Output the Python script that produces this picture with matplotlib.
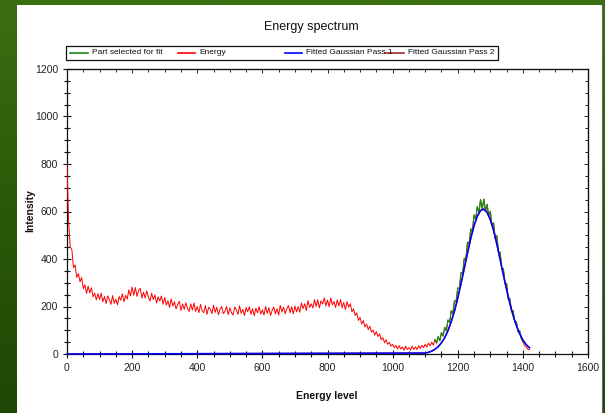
import matplotlib
matplotlib.use('Agg')
import matplotlib.pyplot as plt
import numpy as np
from matplotlib.patches import Rectangle
from matplotlib.colors import LinearSegmentedColormap
from matplotlib.ticker import MultipleLocator
from matplotlib.lines import Line2D

plt.rcParams['font.family'] = ['Liberation Sans', 'DejaVu Sans']

# ---------------- data ----------------
channels = list(range(0, 1425, 5))
energy_counts = (
    [800, 555, 450, 438, 363, 375, 322, 339, 304, 322, 275, 292, 255, 286, 257, 279, 241, 256, 228, 254] +
    [230, 256, 220, 242, 212, 245, 230, 209, 246, 213, 231, 207, 242, 226, 253, 220, 247, 231, 270, 244] +
    [282, 247, 280, 242, 269, 276, 236, 260, 236, 266, 239, 223, 256, 229, 249, 215, 241, 223, 244, 210] +
    [238, 206, 224, 196, 232, 202, 220, 190, 209, 222, 183, 211, 188, 216, 192, 179, 211, 185, 215, 179] +
    [200, 174, 209, 183, 174, 204, 167, 197, 189, 170, 205, 175, 197, 165, 189, 200, 170, 179, 200, 166] +
    [194, 174, 164, 198, 186, 167, 203, 171, 188, 162, 196, 178, 199, 167, 190, 161, 193, 173, 199, 168] +
    [186, 164, 200, 171, 195, 162, 184, 198, 169, 191, 164, 205, 177, 197, 170, 190, 204, 174, 199, 169] +
    [202, 177, 199, 176, 215, 191, 212, 183, 225, 196, 211, 194, 229, 200, 228, 194, 224, 210, 236, 202] +
    [227, 199, 236, 207, 221, 196, 228, 202, 229, 195, 217, 187, 221, 197, 212, 177, 190, 162, 173, 141] +
    [154, 126, 141, 114, 126, 103, 117, 92, 101, 79, 94, 73, 85, 60, 69, 48, 60, 41, 49, 33] +
    [41, 26, 36, 21, 35, 21, 30, 16, 33, 19, 27, 16, 33, 19, 30, 19, 35, 23, 36, 27] +
    [41, 29, 46, 34, 50, 37, 61, 46, 73, 56, 90, 76, 112, 98, 143, 133, 182, 170, 224, 220] +
    [278, 275, 342, 339, 403, 398, 471, 463, 527, 514, 585, 567, 621, 594, 650, 610, 652, 601, 630, 583] +
    [601, 542, 552, 486, 498, 431, 428, 360, 359, 298, 296, 232, 233, 180, 182, 134, 135, 94, 98, 66] +
    [52, 35, 31, 20, 18]
)
fit_start, fit_end = 1130, 1400

gauss_x = [0, 1100, 1110, 1120, 1130, 1140, 1150, 1160, 1170, 1180, 1190, 1200,
           1210, 1220, 1230, 1240, 1250, 1260, 1270, 1280, 1290, 1300, 1310,
           1320, 1330, 1340, 1350, 1360, 1370, 1380, 1390, 1400, 1410, 1420]
gauss_pass1 = [0, 4, 7, 12, 20, 31, 47, 69, 98, 136, 181, 235,
               296, 360, 425, 487, 540, 580, 604, 610, 596, 566, 520,
               463, 399, 334, 271, 213, 162, 120, 86, 59, 40, 26]
gauss_pass2 = [0, 4, 7, 12, 20, 31, 47, 69, 98, 136, 181, 235,
               296, 360, 425, 487, 540, 580, 604, 610, 596, 566, 520,
               463, 399, 334, 271, 213, 162, 120, 86, 59, 40, 26]

labels = ['Part selected for fit', 'Energy', 'Fitted Gaussian Pass 1', 'Fitted Gaussian Pass 2']
colors = ['#1a8a1a', '#ff0000', '#0000ff', '#a03030']

# ---------------- figure ----------------
W, H = 605, 413
fig = plt.figure(figsize=(W / 100, H / 100), dpi=100)

def fx(px):
    return px / W

def fy(py):
    return 1 - py / H

bg = fig.add_axes([0, 0, 1, 1], zorder=-10)
bg.axis('off')
grad = np.linspace(0, 1, 256).reshape(-1, 1)
cmap = LinearSegmentedColormap.from_list('g', ['#3c6e12', '#2a5a08', '#1f4705'])
bg.imshow(grad, extent=[0, W, H, 0], cmap=cmap, aspect='auto')
bg.add_patch(Rectangle((17, 5), 585, H - 5, facecolor='white', edgecolor='none'))
bg.plot([602, 602], [5, H], color='#666666', lw=0.8)
bg.set_xlim(0, W)
bg.set_ylim(H, 0)

L, R, T, B = 67, 588, 69, 354
ax = fig.add_axes([fx(L), fy(B), (R - L) / W, (B - T) / H])
ax.set_facecolor('white')

ch = np.array(channels)
cnt = np.array(energy_counts)
sel = (ch >= fit_start) & (ch <= fit_end)

ax.plot(ch, cnt, color=colors[1], lw=0.7, zorder=3)
ax.plot(ch[sel], cnt[sel], color=colors[0], lw=0.9, zorder=4)
ax.plot(gauss_x, gauss_pass2, color=colors[3], lw=1.0, zorder=5)
ax.plot(gauss_x, gauss_pass1, color=colors[2], lw=1.1, zorder=6, clip_on=False)

ax.set_xlim(0, 1600)
ax.set_ylim(0, 1200)
ax.xaxis.set_major_locator(MultipleLocator(200))
ax.xaxis.set_minor_locator(MultipleLocator(50))
ax.yaxis.set_major_locator(MultipleLocator(200))
ax.yaxis.set_minor_locator(MultipleLocator(50))

ax.tick_params(which='major', direction='inout', length=6, width=0.8, pad=3.5,
               labelsize=7.5, labelcolor='#222222', color='#111111')
ax.tick_params(which='minor', direction='inout', length=4, width=0.8, color='#111111')
for s in ax.spines.values():
    s.set_linewidth(0.9)
    s.set_color('#111111')

secx = ax.secondary_xaxis('top')
secx.xaxis.set_major_locator(MultipleLocator(200))
secx.xaxis.set_minor_locator(MultipleLocator(50))
secx.tick_params(which='both', direction='in', labeltop=False, width=0.7, color='#222222')
secx.tick_params(which='major', length=3)
secx.tick_params(which='minor', length=2.5)
secy = ax.secondary_yaxis('right')
secy.yaxis.set_major_locator(MultipleLocator(200))
secy.yaxis.set_minor_locator(MultipleLocator(50))
secy.tick_params(which='both', direction='in', labelright=False, width=0.7, color='#222222')
secy.tick_params(which='major', length=3)
secy.tick_params(which='minor', length=2.5)

fig.text(fx(327), fy(396), 'Energy level', ha='center', va='center',
         fontsize=7.5, fontweight='bold', color='#111111')
fig.text(fx(30), fy(211), 'Intensity', ha='center', va='center', rotation=90,
         fontsize=7.5, fontweight='bold', color='#111111')
fig.text(fx(311), fy(27), 'Energy spectrum', ha='center', va='center',
         fontsize=9, color='#111111')

# legend box (manual layout to mimic the fixed-width columns)
fig.add_artist(Rectangle((fx(66), fy(60)), fx(498) - fx(66), fy(46) - fy(60),
                         transform=fig.transFigure, facecolor='white',
                         edgecolor='#111111', lw=0.9))
line_x = [(70, 88), (178, 195), (285, 302), (385, 404)]
text_x = [92, 199, 306, 408]
for (x0, x1), tx, c, lab in zip(line_x, text_x, colors, labels):
    fig.add_artist(Line2D([fx(x0), fx(x1)], [fy(53), fy(53)], color=c, lw=1.2,
                          transform=fig.transFigure))
    fig.text(fx(tx), fy(53), lab, ha='left', va='center', fontsize=6, color='#111111')

fig.savefig('out.png', dpi=100)
